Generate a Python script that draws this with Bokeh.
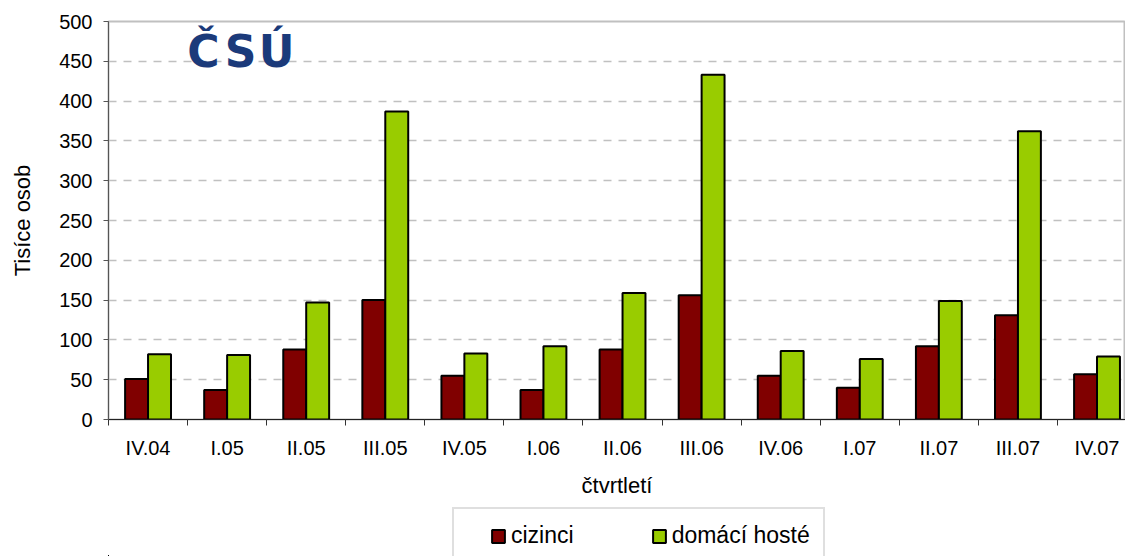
from bokeh.plotting import figure
from bokeh.models import ColumnDataSource, FixedTicker, Legend, LegendItem, Label
from bokeh.layouts import column
from bokeh.transform import dodge
from bokeh.embed import file_html
from bokeh.resources import INLINE

categories = ["IV.04", "I.05", "II.05", "III.05", "IV.05", "I.06", "II.06",
              "III.06", "IV.06", "I.07", "II.07", "III.07", "IV.07"]
cizinci = [51, 37, 88, 150, 55, 37, 88, 156, 55, 40, 92, 131, 57]
domaci = [82, 81, 147, 387, 83, 92, 159, 433, 86, 76, 149, 362, 79]
y_ticks = [0, 50, 100, 150, 200, 250, 300, 350, 400, 450, 500]

centers = [i + 0.5 for i in range(len(categories))]
bounds = [float(i) for i in range(len(categories) + 1)]

src = ColumnDataSource(dict(x=centers, cizinci=cizinci, domaci=domaci))

FONT = "Liberation Sans"
RED = "#800000"
GREEN = "#99cc00"
bw = 0.29

p = figure(width=1125, height=500, x_range=(0, 12.86), y_range=(0, 500),
           output_backend="svg", toolbar_location=None,
           min_border_left=108, min_border_right=0, min_border_top=21,
           min_border_bottom=80)
p.background_fill_color = "white"
p.border_fill_color = "white"
p.outline_line_color = "#c0c0c0"
p.outline_line_width = 2

p.vbar(x=dodge("x", -bw / 2), top="cizinci", width=bw, source=src,
       fill_color=RED, line_color="black", line_width=2)
p.vbar(x=dodge("x", bw / 2), top="domaci", width=bw, source=src,
       fill_color=GREEN, line_color="black", line_width=2)

# y axis
p.yaxis.ticker = FixedTicker(ticks=y_ticks)
p.yaxis.minor_tick_line_color = None
p.yaxis.major_tick_in = 0
p.yaxis.major_tick_out = 5
p.yaxis.axis_line_color = "#555555"
p.yaxis.major_tick_line_color = "#555555"
p.yaxis.major_label_text_font = FONT
p.yaxis.major_label_text_font_size = "20px"
p.yaxis.major_label_text_color = "black"
p.yaxis.major_label_standoff = 11
p.yaxis.axis_label = "Tisíce osob"
p.yaxis.axis_label_text_font = FONT
p.yaxis.axis_label_text_font_size = "22px"
p.yaxis.axis_label_text_font_style = "normal"
p.yaxis.axis_label_text_color = "black"
p.yaxis.axis_label_standoff = 21

# x axis
p.xaxis.ticker = FixedTicker(ticks=centers, minor_ticks=bounds)
p.xaxis.major_label_overrides = {c: lab for c, lab in zip(centers, categories)}
p.xaxis.major_tick_in = 0
p.xaxis.major_tick_out = 0
p.xaxis.minor_tick_in = 0
p.xaxis.minor_tick_out = 6
p.xaxis.minor_tick_line_color = "#333333"
p.xaxis.axis_line_color = "#222222"
p.xaxis.major_label_text_font = FONT
p.xaxis.major_label_text_font_size = "20px"
p.xaxis.major_label_text_color = "black"
p.xaxis.major_label_standoff = 11
p.xaxis.axis_label = "čtvrtletí"
p.xaxis.axis_label_text_font = FONT
p.xaxis.axis_label_text_font_size = "22px"
p.xaxis.axis_label_text_font_style = "normal"
p.xaxis.axis_label_text_color = "black"
p.xaxis.axis_label_standoff = 11

p.xgrid.grid_line_color = None
p.ygrid.ticker = FixedTicker(ticks=y_ticks[1:-1])
p.ygrid.grid_line_color = "#c0c0c0"
p.ygrid.grid_line_dash = "8 7"
p.ygrid.grid_line_width = 1.5

# logo
for letter, lx in zip(["Č", "S", "Ú"], [95, 132, 168]):
    p.add_layout(Label(x=lx, y=368, x_units="screen", y_units="screen",
                       text=letter, text_font="DejaVu Sans",
                       text_font_style="bold", text_font_size="44px",
                       text_color="#1b3a7a", text_align="center",
                       text_baseline="middle"))

# legend strip below the chart: same series renderers, kept out of view
q = figure(width=1125, height=56, x_range=(100, 101), y_range=(1000, 1001),
           output_backend="svg", toolbar_location=None,
           x_axis_location=None, y_axis_location=None,
           min_border_left=0, min_border_right=0, min_border_top=0,
           min_border_bottom=0)
q.outline_line_color = None
q.grid.grid_line_color = None
q.background_fill_color = "white"
q.border_fill_color = "white"
l1 = q.vbar(x=dodge("x", -bw / 2), top="cizinci", width=bw, source=src,
            fill_color=RED, line_color="black", line_width=2)
l2 = q.vbar(x=dodge("x", bw / 2), top="domaci", width=bw, source=src,
            fill_color=GREEN, line_color="black", line_width=2)

legend = Legend(items=[LegendItem(label="cizinci", renderers=[l1]),
                       LegendItem(label="domácí hosté", renderers=[l2])],
                location=(344, -8), orientation="horizontal",
                title=" ", title_location="left", title_text_font_size="10px",
                title_standoff=12, margin=0,
                padding=13, spacing=77, label_standoff=5,
                glyph_width=16, glyph_height=16,
                label_text_font=FONT, label_text_font_size="23px",
                label_text_color="black",
                border_line_color="#c0c0c0", border_line_width=2,
                background_fill_color="white", background_fill_alpha=1)
q.add_layout(legend, "center")

open("out.html", "w").write(file_html(column(p, q), INLINE))
